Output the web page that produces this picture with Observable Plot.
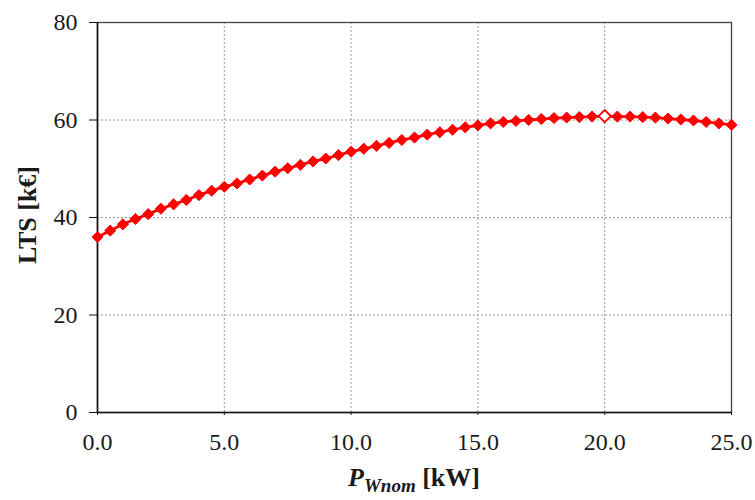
<!DOCTYPE html>
<html>
<head>
<meta charset="utf-8">
<script src="https://cdn.jsdelivr.net/npm/d3@7"></script>
<script src="https://cdn.jsdelivr.net/npm/@observablehq/plot@0.6"></script>
<style>
  html, body { margin: 0; padding: 0; background: #fff; }
  #chart svg { display: block; }
</style>
</head>
<body>
<div id="chart"></div>
<script>
const pw = [0.0, 0.5, 1.0, 1.5, 2.0, 2.5, 3.0, 3.5, 4.0, 4.5, 5.0, 5.5, 6.0, 6.5, 7.0, 7.5, 8.0, 8.5, 9.0, 9.5,
            10.0, 10.5, 11.0, 11.5, 12.0, 12.5, 13.0, 13.5, 14.0, 14.5, 15.0, 15.5, 16.0, 16.5, 17.0, 17.5, 18.0, 18.5, 19.0, 19.5,
            20.0, 20.5, 21.0, 21.5, 22.0, 22.5, 23.0, 23.5, 24.0, 24.5, 25.0];
const lts = [36.0, 37.3, 38.6, 39.7, 40.7, 41.8, 42.7, 43.6, 44.6, 45.5, 46.3, 47.0, 47.8, 48.6, 49.4, 50.1, 50.8, 51.5, 52.1, 52.8,
             53.5, 54.1, 54.7, 55.3, 55.9, 56.4, 57.0, 57.5, 58.0, 58.5, 58.9, 59.3, 59.6, 59.8, 60.0, 60.2, 60.4, 60.5, 60.6, 60.7,
             60.8, 60.7, 60.7, 60.6, 60.5, 60.3, 60.1, 59.9, 59.6, 59.3, 59.0];
const optimumX = [20.0];
const optimumY = [60.8];
const xTicks = [0, 5, 10, 15, 20, 25];
const yTicks = [0, 20, 40, 60, 80];
const xGrid = [5, 10, 15, 20];
const yGrid = [20, 40, 60];

const data = pw.map((x, i) => ({x, y: lts[i]}));
const opt = optimumX.map((x, i) => ({x, y: optimumY[i]}));
const others = data.filter(d => !optimumX.includes(d.x));

const font = "'Liberation Serif', 'Times New Roman', serif";

const chart = Plot.plot({
  width: 755,
  height: 500,
  marginLeft: 97,
  marginRight: 24,
  marginTop: 22,
  marginBottom: 88,
  style: {fontFamily: font, fontSize: "24px", color: "#222", background: "#fff"},
  x: {domain: [0, 25], ticks: xTicks, tickFormat: d => d.toFixed(1), label: null},
  y: {domain: [0, 80], ticks: yTicks, label: null},
  marks: [
    Plot.ruleX(xGrid, {stroke: "#9a9a9a", strokeDasharray: "2,2", strokeWidth: 1}),
    Plot.ruleY(yGrid, {stroke: "#9a9a9a", strokeDasharray: "2,2", strokeWidth: 1}),
    Plot.frame({stroke: "#444", strokeWidth: 1.3}),
    Plot.axisX({ticks: xTicks, tickFormat: d => d.toFixed(1), tickSize: 3, tickPadding: 17, stroke: "#111", fontSize: 24, fill: "#1a1a1a", label: null}),
    Plot.axisY({ticks: yTicks, tickSize: 8, tickPadding: 12, stroke: "#111", fontSize: 24, fill: "#1a1a1a", label: null}),
    Plot.ruleX([0], {stroke: "#111", strokeWidth: 1.6}),
    Plot.ruleY([0], {stroke: "#111", strokeWidth: 1.6}),
    Plot.line(data, {x: "x", y: "y", stroke: "#ff0000", strokeWidth: 2.8}),
    Plot.dot(others, {x: "x", y: "y", symbol: "diamond2", r: 5, fill: "#ff0000", stroke: "#ff0000", strokeWidth: 1}),
    Plot.dot(opt, {x: "x", y: "y", symbol: "diamond2", r: 5.5, fill: "#ffffff", stroke: "#ff0000", strokeWidth: 1.8})
  ]
});

document.getElementById("chart").appendChild(chart);

const svg = d3.select(chart);
// y axis title
svg.append("text")
  .attr("transform", "translate(36,215) rotate(-90)")
  .attr("text-anchor", "middle")
  .attr("font-family", font)
  .attr("font-weight", "bold")
  .attr("font-size", 26)
  .attr("fill", "#1a1a1a")
  .text("LTS [k€]");
// x axis title
const xt = svg.append("text")
  .attr("x", 414)
  .attr("y", 486)
  .attr("text-anchor", "middle")
  .attr("font-family", font)
  .attr("font-weight", "bold")
  .attr("font-size", 26)
  .attr("fill", "#1a1a1a");
xt.append("tspan").attr("font-style", "italic").text("P");
xt.append("tspan").attr("font-style", "italic").attr("font-size", 19).attr("dy", 6).text("Wnom");
xt.append("tspan").attr("dy", -6).text(" [kW]");
</script>
</body>
</html>
